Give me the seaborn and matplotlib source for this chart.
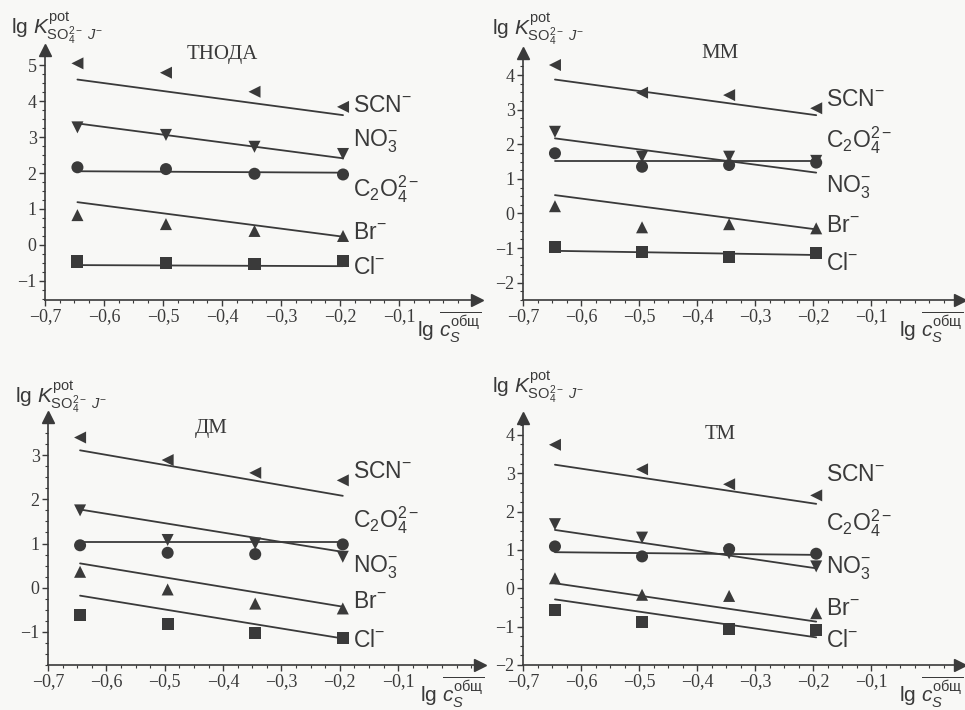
import numpy as np
import pandas as pd
import matplotlib
matplotlib.use('Agg')
import matplotlib.pyplot as plt
import seaborn as sns
from matplotlib.ticker import FixedLocator, FuncFormatter, MultipleLocator

# concentrations (lg c_S) and fitted-line span
X_CONC = [-0.645, -0.495, -0.345, -0.195]
LINE_X = [-0.645, -0.195]
IONS = ['SCN', 'NO3', 'C2O4', 'Br', 'Cl']
MARKERS = {'SCN': '<', 'NO3': 'v', 'C2O4': 'o', 'Br': '^', 'Cl': 's'}
ION_TEXT = {'SCN': r'SCN$^{-}$', 'NO3': r'NO$_3^{-}$', 'C2O4': r'C$_2$O$_4^{2-}$',
            'Br': r'Br$^{-}$', 'Cl': r'Cl$^{-}$'}
PANELS = ['ТНОДА', 'ММ', 'ДМ', 'ТМ']

# measured lg K values per panel
pts_tnoda = {'SCN': [5.05, 4.79, 4.26, 3.84], 'NO3': [3.27, 3.06, 2.73, 2.53],
             'C2O4': [2.16, 2.11, 1.98, 1.96], 'Br': [0.83, 0.58, 0.39, 0.25],
             'Cl': [-0.46, -0.51, -0.53, -0.45]}
pts_mm = {'SCN': [4.29, 3.49, 3.42, 3.04], 'NO3': [2.36, 1.64, 1.64, 1.52],
          'C2O4': [1.74, 1.35, 1.40, 1.47], 'Br': [0.21, -0.40, -0.31, -0.43],
          'Cl': [-0.98, -1.11, -1.27, -1.13]}
pts_dm = {'SCN': [3.40, 2.89, 2.60, 2.43], 'NO3': [1.75, 1.08, 1.00, 0.70],
          'C2O4': [0.96, 0.79, 0.76, 0.98], 'Br': [0.36, -0.04, -0.36, -0.47],
          'Cl': [-0.61, -0.83, -1.02, -1.13]}
pts_tm = {'SCN': [3.74, 3.10, 2.71, 2.42], 'NO3': [1.67, 1.32, 0.91, 0.57],
          'C2O4': [1.09, 0.83, 1.02, 0.90], 'Br': [0.26, -0.17, -0.20, -0.65],
          'Cl': [-0.57, -0.87, -1.07, -1.10]}

# fitted lines: value at lg c = -0.645 and -0.195
fit_tnoda = {'SCN': [4.60, 3.61], 'NO3': [3.38, 2.41], 'C2O4': [2.05, 2.01],
             'Br': [1.19, 0.23], 'Cl': [-0.56, -0.59]}
fit_mm = {'SCN': [3.87, 2.84], 'NO3': [2.17, 1.18], 'C2O4': [1.52, 1.52],
          'Br': [0.53, -0.46], 'Cl': [-1.08, -1.20]}
fit_dm = {'SCN': [3.11, 2.08], 'NO3': [1.77, 0.81], 'C2O4': [1.04, 1.04],
          'Br': [0.55, -0.43], 'Cl': [-0.18, -1.15]}
fit_tm = {'SCN': [3.22, 2.20], 'NO3': [1.52, 0.52], 'C2O4': [0.94, 0.87],
          'Br': [0.13, -0.87], 'Cl': [-0.29, -1.28]}

# label heights next to the curves
lab_tnoda = {'SCN': 3.89, 'NO3': 2.88, 'C2O4': 1.54, 'Br': 0.34, 'Cl': -0.63}
lab_mm = {'SCN': 3.28, 'NO3': 0.77, 'C2O4': 2.12, 'Br': -0.34, 'Cl': -1.44}
lab_dm = {'SCN': 2.62, 'NO3': 0.47, 'C2O4': 1.53, 'Br': -0.32, 'Cl': -1.19}
lab_tm = {'SCN': 2.96, 'NO3': 0.52, 'C2O4': 1.70, 'Br': -0.52, 'Cl': -1.35}

Y_TICKS = [list(range(-1, 6)), list(range(-2, 5)), list(range(-1, 4)), list(range(-2, 5))]
X_TICKS = [-0.7, -0.6, -0.5, -0.4, -0.3, -0.2, -0.1]

sns.set_theme(style='ticks')
plt.rcParams['font.family'] = ['Liberation Sans', 'DejaVu Sans']
plt.rcParams['mathtext.fontset'] = 'custom'
plt.rcParams['mathtext.rm'] = 'Liberation Sans'
plt.rcParams['mathtext.it'] = 'Liberation Sans:italic'
plt.rcParams['mathtext.bf'] = 'Liberation Sans:bold'

INK = '#3a3a3a'
BG = '#f8f8f6'

fig = plt.figure(figsize=(9.65, 7.1), dpi=100, facecolor=BG)
boxes = [[0.0466, 0.5775, 0.4477, 0.352], [0.542, 0.5775, 0.453, 0.348],
         [0.0497, 0.0634, 0.4477, 0.349], [0.542, 0.0634, 0.453, 0.348]]
xlims = [(-0.7, 0.032), (-0.7, 0.053), (-0.7, 0.04), (-0.7, 0.053)]
ylims = [(-1.53, 5.42), (-2.5, 4.64), (-1.75, 3.86), (-2.0, 4.44)]
title_pos = [(-0.40, 5.30), (-0.36, 4.62), (-0.42, 3.60), (-0.36, 4.02)]
ylab_pos = [(-0.078, 1.06), (-0.071, 1.07), (-0.076, 1.056), (-0.071, 1.10)]

all_pts = [pts_tnoda, pts_mm, pts_dm, pts_tm]
all_fit = [fit_tnoda, fit_mm, fit_dm, fit_tm]
all_lab = [lab_tnoda, lab_mm, lab_dm, lab_tm]

fmt = FuncFormatter(lambda v, p: ('%.1f' % v).replace('-', '\u2212').replace('.', ',')
                    if abs(v) > 1e-9 else '0')
yfmt = FuncFormatter(lambda v, p: ('%d' % round(v)).replace('-', '\u2212'))

for i, name in enumerate(PANELS):
    ax = fig.add_axes(boxes[i])
    ax.set_facecolor(BG)
    pts = all_pts[i]
    fit = all_fit[i]

    df_pts = pd.DataFrame([(ion, x, y) for ion in IONS for x, y in zip(X_CONC, pts[ion])],
                          columns=['ion', 'x', 'y'])
    df_fit = pd.DataFrame([(ion, x, y) for ion in IONS for x, y in zip(LINE_X, fit[ion])],
                          columns=['ion', 'x', 'y'])

    sns.lineplot(data=df_fit, x='x', y='y', units='ion', estimator=None,
                 color=INK, lw=1.3, ax=ax, legend=False)
    sns.scatterplot(data=df_pts, x='x', y='y', style='ion', markers=MARKERS,
                    color=INK, s=75, edgecolor='none', ax=ax, legend=False, zorder=3)

    for ion in IONS:
        ax.text(-0.178, all_lab[i][ion], ION_TEXT[ion], fontsize=16.5, color=INK,
                va='center', ha='left')

    ax.text(*title_pos[i], name, fontsize=15, family='Liberation Serif', color=INK,
            ha='center', va='center')
    ax.text(*ylab_pos[i], r'lg $K^{\rm pot}_{{\rm SO}_4^{2-}\ J^{-}}$', transform=ax.transAxes,
            fontsize=15, color=INK, ha='left', va='baseline')
    ax.text(0.86, -0.15, r'lg $\overline{c_S^{\rm общ}}$', transform=ax.transAxes,
            fontsize=15, color=INK, ha='left', va='baseline')

    ax.set_xlim(*xlims[i])
    ax.set_ylim(*ylims[i])
    ax.xaxis.set_major_locator(FixedLocator(X_TICKS))
    ax.yaxis.set_major_locator(FixedLocator(Y_TICKS[i]))
    ax.xaxis.set_minor_locator(MultipleLocator(0.025))
    ax.yaxis.set_minor_locator(MultipleLocator(0.25))
    ax.xaxis.set_major_formatter(fmt)
    ax.yaxis.set_major_formatter(yfmt)
    ax.set_xlabel('')
    ax.set_ylabel('')
    ax.tick_params(which='major', length=4, width=1, color=INK, labelcolor=INK,
                   labelsize=13, direction='out', pad=2)
    ax.tick_params(which='minor', length=2, width=0.8, color=INK, direction='out')
    for lab in ax.get_xticklabels() + ax.get_yticklabels():
        lab.set_family('Liberation Serif')
    sns.despine(ax=ax)
    for s in ['left', 'bottom']:
        ax.spines[s].set_color(INK)
        ax.spines[s].set_linewidth(1.2)
    ax.plot(1, 0, '>', transform=ax.transAxes, clip_on=False, ms=9, color=INK)
    ax.plot(0, 1, '^', transform=ax.transAxes, clip_on=False, ms=9, color=INK)

fig.savefig('out.png', dpi=100, facecolor=BG)
